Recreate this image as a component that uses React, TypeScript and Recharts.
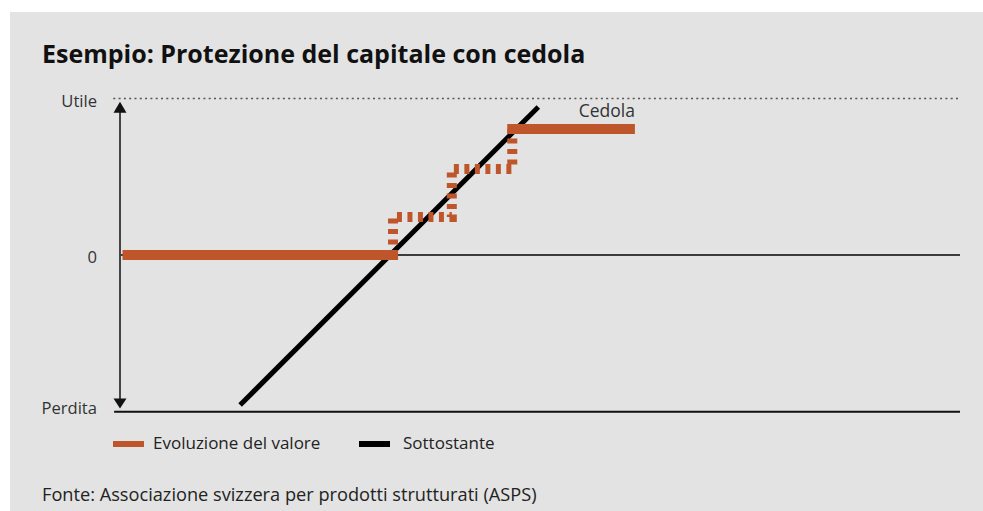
import React from "react";
import {
  LineChart,
  Line,
  XAxis,
  YAxis,
  ReferenceLine,
} from "recharts";

// Schematic payoff: x = time/underlying scale (0..100), y = result (-100 loss .. 100 gain)
const yTicks = [-100, 0, 100];
const yTickLabels: Record<number, string> = { 100: "Utile", 0: "0", [-100]: "Perdita" };

const underlying = [
  { x: 14.3, y: -95.7 },
  { x: 49.8, y: 94.6 },
];

const valueFloor = [
  { x: 0.3, y: 0 },
  { x: 33.1, y: 0 },
];

const valueSteps = [
  { x: 32.5, y: 0 },
  { x: 32.5, y: 24.3 },
  { x: 39.5, y: 24.3 },
  { x: 39.5, y: 55.0 },
  { x: 46.7, y: 55.0 },
  { x: 46.7, y: 80.5 },
];

const valueCoupon = [
  { x: 46.1, y: 80.5 },
  { x: 61.3, y: 80.5 },
];

const ORANGE = "#bf552b";
const FONT = "'Open Sans', sans-serif";

function YTick(props: any) {
  const { x, y, payload } = props;
  const v = payload.value as number;
  const dy = v === 100 ? 8 : v === 0 ? 8 : 2;
  return (
    <text x={x} y={y + dy} textAnchor="end" fontSize={16.6} fill="#333" fontFamily={FONT}>
      {yTickLabels[v]}
    </text>
  );
}

function ArrowAxis(props: any) {
  const { x1, y1, x2, y2 } = props;
  return (
    <g>
      <line x1={x1} y1={y1 + 8} x2={x2} y2={y2 - 8} stroke="#444" strokeWidth={2} />
      <polygon points={`${x1},${y1} ${x1 - 6.5},${y1 + 11} ${x1 + 6.5},${y1 + 11}`} fill="#111" />
      <polygon points={`${x2},${y2} ${x2 - 6.5},${y2 - 10} ${x2 + 6.5},${y2 - 10}`} fill="#111" />
    </g>
  );
}

function CouponLabel(props: any) {
  const { x, y, index } = props;
  if (index !== valueCoupon.length - 1) return null;
  return (
    <text x={x} y={y - 12} textAnchor="end" fontSize={17.5} fill="#333" fontFamily={FONT}>
      Cedola
    </text>
  );
}

const legendText: React.CSSProperties = {
  position: "absolute",
  top: 434,
  fontFamily: FONT,
  fontSize: 17,
  lineHeight: 1,
  color: "#222",
  whiteSpace: "nowrap",
};

export default function App() {
  return (
    <div style={{ position: "absolute", left: 0, top: 0, width: 983, height: 511, background: "#fff", overflow: "hidden" }}>
      <div style={{ position: "absolute", left: 10, top: 12, width: 973, height: 499, background: "#e3e3e3" }} />
      <div
        style={{
          position: "absolute",
          left: 42,
          top: 41,
          fontFamily: FONT,
          fontWeight: 700,
          fontSize: 25,
          lineHeight: 1,
          color: "#111",
          whiteSpace: "nowrap",
        }}
      >
        Esempio: Protezione del capitale con cedola
      </div>

      <div style={{ position: "absolute", left: 0, top: 0 }}>
        <LineChart width={983} height={511} margin={{ top: 98.5, right: 23, bottom: 99.3, left: 10 }}>
          <XAxis type="number" dataKey="x" domain={[0, 100]} hide allowDataOverflow />
          <YAxis
            type="number"
            domain={[-100, 100]}
            ticks={yTicks}
            width={110}
            axisLine={false}
            tickLine={false}
            tickMargin={17}
            tick={<YTick />}
            interval={0}
          />
          <ReferenceLine
            segment={[{ x: -0.8, y: 100 }, { x: 99.8, y: 100 }]}
            stroke="#555"
            strokeWidth={1.5}
            strokeDasharray="2 3.3"
            ifOverflow="visible"
          />
          <ReferenceLine y={0} stroke="#3c3c3c" strokeWidth={2} />
          <ReferenceLine
            segment={[{ x: -0.7, y: -100 }, { x: 100, y: -100 }]}
            stroke="#111"
            strokeWidth={2}
            ifOverflow="visible"
          />
          <ReferenceLine
            segment={[{ x: 0, y: 98 }, { x: 0, y: -98 }]}
            shape={<ArrowAxis />}
            ifOverflow="visible"
          />
          <Line
            data={underlying}
            dataKey="y"
            type="linear"
            stroke="#000"
            strokeWidth={5}
            dot={false}
            activeDot={false}
            isAnimationActive={false}
          />
          <Line
            data={valueFloor}
            dataKey="y"
            type="linear"
            stroke={ORANGE}
            strokeWidth={10}
            dot={false}
            activeDot={false}
            isAnimationActive={false}
          />
          <Line
            data={valueSteps}
            dataKey="y"
            type="linear"
            stroke={ORANGE}
            strokeWidth={10}
            strokeDasharray="5 5.5"
            dot={false}
            activeDot={false}
            isAnimationActive={false}
          />
          <Line
            data={valueCoupon}
            dataKey="y"
            type="linear"
            stroke={ORANGE}
            strokeWidth={10}
            dot={false}
            activeDot={false}
            isAnimationActive={false}
            label={<CouponLabel />}
          />
        </LineChart>
      </div>

      <span style={{ position: "absolute", left: 113, top: 441, width: 31, height: 6, background: ORANGE }} />
      <span style={{ ...legendText, left: 153 }}>Evoluzione del valore</span>
      <span style={{ position: "absolute", left: 359, top: 441, width: 31, height: 6, background: "#000" }} />
      <span style={{ ...legendText, left: 403 }}>Sottostante</span>

      <div style={{ position: "absolute", left: 42, top: 485, fontFamily: FONT, fontSize: 18.2, lineHeight: 1, color: "#222", whiteSpace: "nowrap" }}>
        Fonte: Associazione svizzera per prodotti strutturati (ASPS)
      </div>
    </div>
  );
}
